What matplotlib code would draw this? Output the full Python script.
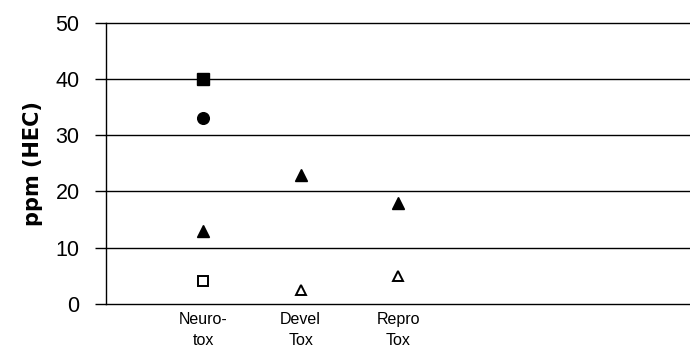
import numpy as np
import matplotlib
matplotlib.use("Agg")
import matplotlib.pyplot as plt

plt.rcParams['font.family'] = ['Liberation Sans', 'DejaVu Sans']

categories = ["Neuro-\ntox", "Devel\nTox", "Repro\nTox"]
cat_pos = [1, 2, 3]

nan = np.nan
filled_square = [40, nan, nan]
filled_circle = [33, nan, nan]
filled_triangle = [13, 23, 18]
open_square = [4, nan, nan]
open_triangle = [nan, 2.5, 5]

yticks = [0, 10, 20, 30, 40, 50]

fig = plt.figure(figsize=(6.9, 3.48), dpi=100)
ax = fig.add_axes([106 / 690, 1 - 304 / 348, 1 - 106 / 690, (304 - 22.7) / 348])

for y in yticks[1:]:
    ax.axhline(y, color="black", lw=1.0, zorder=1, clip_on=False)

ms = 8.4
ax.plot(cat_pos, filled_square, ls="none", marker="s", ms=ms, mfc="black", mec="black", zorder=3)
ax.plot(cat_pos, filled_circle, ls="none", marker="o", ms=ms, mfc="black", mec="black", zorder=3)
ax.plot(cat_pos, filled_triangle, ls="none", marker="^", ms=ms, mfc="black", mec="black", zorder=3)
ax.plot(cat_pos, open_square, ls="none", marker="s", ms=ms - 0.5, mfc="white", mec="black", mew=1.4, zorder=3)
ax.plot(cat_pos, open_triangle, ls="none", marker="^", ms=ms - 0.5, mfc="white", mec="black", mew=1.4, zorder=3)

ax.set_xlim(0, 6)
ax.set_ylim(0, 50)
ax.set_yticks(yticks)
ax.tick_params(axis="y", direction="out", length=8, width=1, pad=11, labelsize=15.5)
ax.set_xticks(cat_pos)
ax.set_xticklabels(categories, fontsize=11.5, linespacing=1.45)
ax.tick_params(axis="x", length=0, pad=6)

for side in ("top", "right"):
    ax.spines[side].set_visible(False)
ax.spines["left"].set_linewidth(1)
ax.spines["bottom"].set_linewidth(1)

ax.set_ylabel("ppm (HEC)", fontsize=15, fontweight="bold", labelpad=9,
              family="DejaVu Sans")

fig.savefig("out.png", dpi=100)
